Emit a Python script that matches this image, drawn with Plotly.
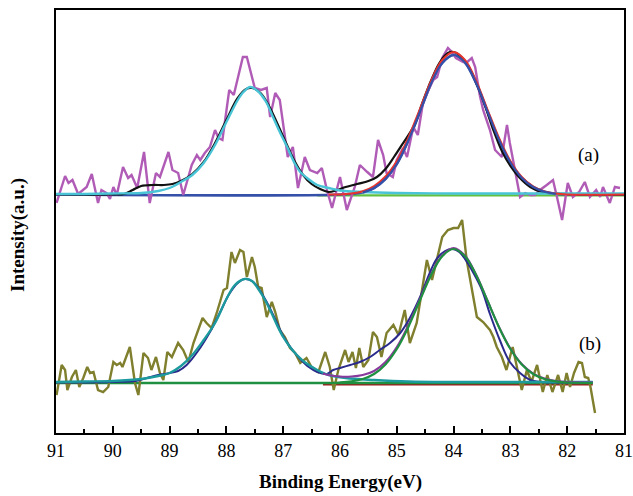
import plotly.graph_objects as go

# ---------------- data (a) ----------------
energy_a = [90.99, 90.84, 90.78, 90.71, 90.61, 90.46, 90.37, 90.26, 90.20, 90.11, 90.05, 89.99, 89.93,
            89.82, 89.73, 89.67, 89.57, 89.45, 89.35, 89.24, 89.17, 89.02, 88.95, 88.85, 88.76, 88.61,
            88.52, 88.46, 88.38, 88.29, 88.20, 88.14, 88.07, 87.95, 87.87, 87.71, 87.64, 87.58, 87.50,
            87.39, 87.29, 87.23, 87.14, 87.06, 86.92, 86.83, 86.74, 86.62, 86.53, 86.40, 86.32, 86.23,
            86.14, 86.00, 85.88, 85.74, 85.65, 85.52, 85.42, 85.33, 85.24, 85.18, 85.07, 85.00, 84.89,
            84.82, 84.71, 84.63, 84.54, 84.45, 84.36, 84.29, 84.20, 84.10, 84.03, 83.96, 83.83, 83.76,
            83.68, 83.62, 83.54, 83.48, 83.36, 83.27, 83.15, 83.06, 83.01, 82.92, 82.83, 82.74, 82.65,
            82.57, 82.48, 82.36, 82.25, 82.18, 82.09, 81.99, 81.90, 81.79, 81.69, 81.60, 81.49, 81.42,
            81.37, 81.25, 81.16, 81.07]
intensity_a = [230, 257, 250, 253, 239, 246, 259, 230, 243, 240, 234, 246, 238,
               266, 255, 258, 245, 281, 230, 260, 256, 281, 263, 260, 238, 268,
               278, 273, 280, 286, 303, 295, 293, 343, 338, 376, 376, 363, 345,
               343, 345, 316, 340, 333, 276, 286, 245, 276, 263, 260, 265, 243,
               225, 256, 223, 246, 268, 261, 256, 293, 278, 260, 256, 273, 285,
               276, 306, 298, 330, 342, 353, 356, 375, 385, 381, 375, 371, 371,
               375, 366, 338, 323, 303, 283, 276, 308, 290, 263, 236, 240, 238,
               238, 243, 248, 253, 236, 213, 250, 236, 241, 251, 236, 243, 236,
               246, 230, 246, 245]

env_a_e = [91.0, 90.0, 89.8, 89.65, 89.5, 89.3, 89.1, 88.95, 88.8, 88.6, 88.4, 88.2, 88.0, 87.8, 87.65,
           87.55, 87.4, 87.25, 87.1, 86.95, 86.8, 86.65, 86.5, 86.35, 86.2, 86.05, 85.9, 85.7, 85.5,
           85.35, 85.2, 85.05, 84.9, 84.7, 84.55, 84.4, 84.25, 84.1, 84.0, 83.9, 83.75, 83.6, 83.45,
           83.3, 83.15, 83.0, 82.85, 82.65, 82.45, 82.25, 82.0, 81.0]
env_a_v = [238.5, 238.5, 239, 243, 247, 248, 248, 249, 252, 259, 271, 290, 313, 335, 344,
           345, 340, 327, 309, 290, 272, 258, 249, 244, 241, 243, 246, 249, 252,
           256, 264, 276, 289, 307, 330, 352, 370, 380, 381, 378, 368, 350, 328,
           303, 282, 267, 256, 246, 241, 239.5, 239, 238.5]

cyan_a_e = [91.0, 90.5, 90.0, 89.5, 89.2, 89.0, 88.8, 88.6, 88.4, 88.2, 88.0, 87.8, 87.7, 87.58,
            87.45, 87.3, 87.18, 87.06, 86.93, 86.8, 86.7, 86.58, 86.4, 86.2, 86.0, 85.6, 85.0, 84.0,
            83.0, 82.0, 81.0]
cyan_a_v = [239, 239, 239.5, 240, 242, 245, 251, 258, 270, 288, 311, 333, 341, 346,
            342, 331, 316, 301, 286, 270, 261, 255, 248, 245, 242.5, 241, 240, 239.5,
            239.5, 239.5, 239.5]

red_a_e = [86.2, 86.0, 85.8, 85.6, 85.4, 85.2, 85.0, 84.8, 84.6, 84.4, 84.2, 84.0, 83.8, 83.6, 83.4,
           83.2, 83.0, 82.8, 82.6, 82.4, 82.2, 82.0, 81.0]
red_a_v = [238.5, 238.6, 239.5, 241.8, 247, 256.5, 272, 295, 323, 351.7, 373, 381, 373, 351.7, 323,
           295, 272, 256, 246.6, 241.6, 239.4, 238.5, 238.5]

blue_a_e = [91.0, 86.0, 85.6, 85.4, 85.2, 85.0, 84.8, 84.6, 84.4, 84.2, 84.0, 83.8, 83.6, 83.4, 83.2,
            83.0, 82.8, 82.6, 82.4, 82.2, 82.0, 81.0]
blue_a_v = [238.5, 238.5, 240.5, 245, 254, 269, 292, 320, 349, 370, 378, 370.5, 349.5, 321, 293,
            270.5, 255, 246, 241.3, 239.2, 238.5, 238.5]

green_a_e = [86.4, 81.0]
green_a_v = [237.6, 237.6]

# ---------------- data (b) ----------------
energy_b = [90.99, 90.90, 90.84, 90.80, 90.72, 90.65, 90.59, 90.52, 90.45, 90.40, 90.34, 90.26, 90.17,
            90.08, 89.99, 89.93, 89.87, 89.83, 89.70, 89.61, 89.55, 89.46, 89.38, 89.32, 89.24, 89.17,
            89.11, 89.04, 88.96, 88.85, 88.76, 88.67, 88.58, 88.49, 88.42, 88.35, 88.26, 88.17, 88.05,
            87.99, 87.91, 87.85, 87.76, 87.70, 87.64, 87.55, 87.50, 87.44, 87.38, 87.29, 87.20, 87.14,
            87.06, 86.97, 86.88, 86.79, 86.70, 86.59, 86.50, 86.38, 86.26, 86.18, 86.11, 86.03, 85.91,
            85.85, 85.78, 85.72, 85.66, 85.59, 85.50, 85.42, 85.35, 85.27, 85.18, 85.06, 84.97, 84.86,
            84.77, 84.65, 84.56, 84.47, 84.38, 84.30, 84.20, 84.10, 84.00, 83.92, 83.85, 83.77, 83.70,
            83.59, 83.48, 83.36, 83.30, 83.24, 83.15, 83.07, 82.96, 82.89, 82.80, 82.71, 82.63, 82.53,
            82.43, 82.35, 82.26, 82.16, 82.08, 82.01, 81.95, 81.88, 81.80, 81.74, 81.69, 81.63, 81.59,
            81.51]
intensity_b = [38, 68, 63, 43, 56, 63, 46, 55, 66, 60, 61, 43, 41,
               46, 71, 68, 70, 66, 86, 50, 38, 80, 75, 63, 76, 60,
               53, 81, 76, 90, 83, 71, 90, 103, 115, 110, 105, 120, 143,
               145, 181, 170, 183, 181, 156, 176, 166, 146, 145, 116, 131, 121,
               103, 96, 85, 80, 70, 75, 66, 61, 81, 66, 43, 63, 83,
               71, 81, 65, 85, 66, 73, 101, 96, 76, 100, 108, 98, 123,
               90, 110, 140, 173, 153, 171, 196, 203, 205, 205, 213, 173, 150,
               116, 111, 103, 96, 86, 76, 63, 86, 66, 43, 63, 51, 68,
               41, 58, 41, 58, 41, 60, 46, 60, 71, 70, 56, 55, 46,
               20]

env_b_e = [91.0, 90.0, 89.6, 89.4, 89.2, 89.0, 88.85, 88.7, 88.5, 88.3, 88.1, 87.95, 87.8, 87.68,
           87.55, 87.45, 87.3, 87.15, 87.0, 86.85, 86.7, 86.55, 86.4, 86.23, 86.12, 86.0, 85.82, 85.65,
           85.47, 85.3, 85.12, 84.94, 84.77, 84.59, 84.42, 84.3, 84.15, 84.02, 83.9, 83.8, 83.65, 83.5,
           83.36, 83.18, 83.01, 82.83, 82.65, 82.45, 82.2, 81.55]
env_b_v = [50.5, 51, 52, 55, 58, 60, 62, 68, 82, 100, 122, 139, 150, 154,
           152, 146, 132, 115, 97, 84, 74, 66, 61, 59, 63, 65, 68, 71,
           76, 83, 90, 100, 115, 136, 160, 174, 182, 184, 181, 174, 160, 143,
           119, 92, 71, 60, 53, 51, 50.5, 50.5]

teal_b_e = [91.0, 90.5, 90.0, 89.5, 89.2, 89.0, 88.8, 88.6, 88.4, 88.2, 88.0, 87.85, 87.68, 87.55,
            87.45, 87.35, 87.23, 87.11, 87.0, 86.88, 86.76, 86.6, 86.4, 86.2, 85.9, 85.4, 84.8, 84.0,
            81.55]
teal_b_v = [51, 51.5, 52, 54, 57, 60, 67, 78, 93, 110, 134, 148, 154, 152,
            145, 136, 123, 108, 96, 86, 78, 70, 63, 58, 55, 53, 51.5, 51,
            51]

green_b_e = [86.2, 86.0, 85.8, 85.6, 85.4, 85.2, 85.0, 84.8, 84.6, 84.4, 84.2, 84.0, 83.8, 83.6, 83.4,
             83.2, 83.0, 82.8, 82.6, 82.4, 82.2, 82.0, 81.55]
green_b_v = [50, 50.5, 51.6, 54, 59, 68.5, 84, 105.6, 131.7, 157.5, 176.8, 184, 176.8, 157.5, 131.7,
             105.6, 84, 68.5, 59, 54, 51.6, 50.5, 50]

purple_b_e = [86.3, 86.2, 86.0, 85.8, 85.6, 85.4, 85.2, 85.0, 84.8, 84.6, 84.4, 84.2, 84.0, 83.8, 83.6,
              83.4, 83.2, 83.0, 82.8, 82.6, 82.4, 82.2, 82.0, 81.55]
purple_b_v = [59.5, 58, 56.5, 56.5, 58, 62, 71, 86, 107.5, 133, 158.5, 177.5, 185, 177.5, 158,
              132, 106, 84.5, 69, 59.5, 54.5, 52, 51, 50.5]

base_green_b_e = [91.0, 81.55]
base_green_b_v = [50, 50]
base_red_b_e = [86.3, 81.55]
base_red_b_v = [48.6, 48.6]

x_ticks = [91, 90, 89, 88, 87, 86, 85, 84, 83, 82, 81]
x_tick_labels = [str(t) for t in x_ticks]

fig = go.Figure()

def add(x, y, color, width, shape="linear"):
    fig.add_trace(go.Scatter(x=x, y=y, mode="lines", line=dict(color=color, width=width, shape=shape),
                             showlegend=False, hoverinfo="skip"))

# (b) group
add(base_red_b_e, base_red_b_v, "#a01818", 2)
add(base_green_b_e, base_green_b_v, "#1e9040", 2.5)
add(energy_b, intensity_b, "#7f7f2e", 2.4)
add(env_b_e, env_b_v, "#2a2a8c", 2, "spline")
add(teal_b_e, teal_b_v, "#1c9a9e", 2.4, "spline")
add(purple_b_e, purple_b_v, "#8a3a9c", 2, "spline")
add(green_b_e, green_b_v, "#1e9040", 2.2, "spline")

# (a) group
add(green_a_e, green_a_v, "#62c040", 2.2)
add(blue_a_e, blue_a_v, "#3550a8", 2.6, "spline")
add(energy_a, intensity_a, "#b05cb6", 2.4)
add(env_a_e, env_a_v, "#111111", 2.2, "spline")
add(cyan_a_e, cyan_a_v, "#48c4d6", 2.4, "spline")
add(red_a_e, red_a_v, "#e8342c", 2, "spline")
add(blue_a_e[2:-2], blue_a_v[2:-2], "#3550a8", 2.2, "spline")

W, H = 633, 496
L, R, T, B = 56, 9, 10, 63
pw, ph = W - L - R, H - T - B

fig.update_layout(
    width=W, height=H,
    margin=dict(l=L, r=R, t=T, b=B),
    plot_bgcolor="white", paper_bgcolor="white",
    font=dict(family="Liberation Serif", color="black"),
    xaxis=dict(range=[91, 81], tickmode="array", tickvals=x_ticks, ticktext=x_tick_labels,
               ticks="inside", ticklen=7, tickwidth=1.5, tickcolor="black",
               minor=dict(dtick=0.5, ticks="inside", ticklen=4, tickwidth=1.5, tickcolor="black"),
               showline=True, linewidth=2, linecolor="black", mirror=True,
               showgrid=False, zeroline=False, automargin=False,
               tickfont=dict(size=18, family="Liberation Serif", color="black")),
    yaxis=dict(range=[0, 423], showticklabels=False, ticks="",
               showline=True, linewidth=2, linecolor="black", mirror=True,
               showgrid=False, zeroline=False, automargin=False),
    annotations=[
        dict(text="<b>Binding Energy(eV)</b>", xref="paper", yref="paper",
             x=(340 - L) / pw, y=(433 - 482) / ph, showarrow=False,
             font=dict(size=19, family="Liberation Serif", color="black"),
             xanchor="center", yanchor="middle"),
        dict(text="<b>Intensity(a.u.)</b>", xref="paper", yref="paper",
             x=(18 - L) / pw, y=(433 - 235) / ph, showarrow=False, textangle=-90,
             font=dict(size=19, family="Liberation Serif", color="black"),
             xanchor="center", yanchor="middle"),
        dict(text="(a)", x=81.63, y=278, xref="x", yref="y", showarrow=False,
             font=dict(size=19, family="Liberation Serif", color="black")),
        dict(text="(b)", x=81.6, y=89, xref="x", yref="y", showarrow=False,
             font=dict(size=19, family="Liberation Serif", color="black")),
    ],
)

fig.write_html("out.html", config={"displayModeBar": False},
               post_script="document.body.style.margin='0px';document.body.style.overflow='hidden';")
